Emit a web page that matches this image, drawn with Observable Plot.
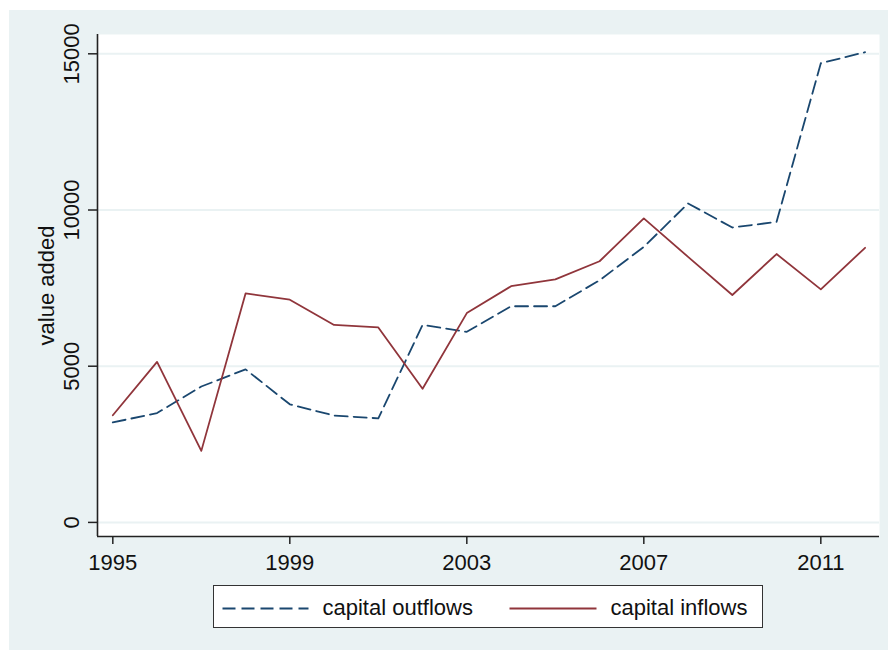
<!DOCTYPE html>
<html>
<head>
<meta charset="utf-8">
<script src="https://cdn.jsdelivr.net/npm/d3@7"></script>
<script src="https://cdn.jsdelivr.net/npm/@observablehq/plot@0.6"></script>
<style>
  html, body { margin: 0; padding: 0; background: #ffffff; }
  #wrap { position: relative; width: 888px; height: 650px; overflow: hidden;
          font-family: 'Liberation Sans', Arial, sans-serif; }
  #bg { position: absolute; left: 9px; top: 10px; width: 879px; height: 640px; background: #eaf2f3; }
  #chart { position: absolute; left: 0; top: 0; }
  #legend { position: absolute; left: 213px; top: 585px; width: 550px; height: 43px;
            box-sizing: border-box; border: 1.5px solid #333; background: #fff; }
  #legend span { position: absolute; font-size: 22px; line-height: 22px; color: #111; white-space: nowrap; }
  #legend svg { position: absolute; left: 0; top: 0; }
</style>
</head>
<body>
<div id="wrap">
  <div id="bg"></div>
  <div id="chart"></div>
  <div id="legend"></div>
</div>
<script>
// ---- data ----
const years = [1995,1996,1997,1998,1999,2000,2001,2002,2003,2004,2005,2006,2007,2008,2009,2010,2011,2012];
const outflows = [3200,3500,4350,4900,3780,3420,3330,6320,6100,6920,6920,7750,8820,10210,9440,9620,14700,15050];
const inflows  = [3430,5140,2290,7330,7130,6320,6240,4280,6700,7560,7780,8360,9730,8500,7280,8590,7460,8790];
const xTicks = [1995,1999,2003,2007,2011];
const yTicks = [0,5000,10000,15000];
const seriesNames = ["capital outflows","capital inflows"];
const yTitle = "value added";

const outRows = years.map((y,i) => ({year: y, value: outflows[i]}));
const inRows  = years.map((y,i) => ({year: y, value: inflows[i]}));

const blue = "#1a476f", red = "#90353b", grid = "#eaf2f3", axisCol = "#222";
const xDomain = [1994.654, 2012.326];
const yDomain = [-451, 15618];

const chart = Plot.plot({
  width: 888,
  height: 580,
  marginLeft: 97,
  marginRight: 9,
  marginTop: 34,
  marginBottom: 44,
  style: {background: "transparent", fontFamily: "'Liberation Sans', Arial, sans-serif", color: "#111"},
  x: {domain: xDomain, type: "linear"},
  y: {domain: yDomain, type: "linear"},
  marks: [
    Plot.frame({fill: "white", stroke: "none"}),
    Plot.gridY(yTicks, {stroke: grid, strokeOpacity: 1, strokeWidth: 2}),
    Plot.line(outRows, {x: "year", y: "value", stroke: blue, strokeWidth: 1.8, strokeDasharray: "13,6"}),
    Plot.line(inRows, {x: "year", y: "value", stroke: red, strokeWidth: 1.8}),
    Plot.ruleX([xDomain[0]], {stroke: axisCol, strokeWidth: 1.6}),
    Plot.ruleY([yDomain[0]], {stroke: axisCol, strokeWidth: 1.6}),
    Plot.axisX(xTicks, {tickSize: 8, tickPadding: 10, fontSize: 22, tickFormat: d => String(d), label: null, stroke: axisCol, strokeWidth: 1.5}),
    Plot.axisY(yTicks, {tickSize: 9, tickFormat: () => "", label: null, stroke: axisCol, strokeWidth: 1.5}),
    Plot.text(yTicks, {y: d => d, frameAnchor: "left", dx: -19, rotate: -90, text: d => String(d),
                       textAnchor: "middle", lineAnchor: "bottom", fontSize: 22, fill: "#111"}),
    Plot.text([yTitle], {frameAnchor: "left", dx: -44, rotate: -90, text: d => d,
                         textAnchor: "middle", lineAnchor: "bottom", fontSize: 22, fill: "#111"})
  ]
});
document.getElementById("chart").appendChild(chart);

// ---- legend ----
const lg = document.getElementById("legend");
const ns = "http://www.w3.org/2000/svg";
const sv = document.createElementNS(ns, "svg");
sv.setAttribute("width", 547); sv.setAttribute("height", 40);
function seg(x1, x2, col, dash) {
  const l = document.createElementNS(ns, "line");
  l.setAttribute("x1", x1); l.setAttribute("x2", x2);
  l.setAttribute("y1", 22.5); l.setAttribute("y2", 22.5);
  l.setAttribute("stroke", col); l.setAttribute("stroke-width", 1.8);
  if (dash) l.setAttribute("stroke-dasharray", dash);
  sv.appendChild(l);
}
seg(223 - 214.5, 309 - 214.5, blue, "13,6");
seg(510 - 214.5, 597 - 214.5, red, null);
lg.appendChild(sv);
const s1 = document.createElement("span");
s1.textContent = seriesNames[0]; s1.style.left = (323 - 214.5) + "px"; s1.style.top = "11px";
const s2 = document.createElement("span");
s2.textContent = seriesNames[1]; s2.style.left = (611 - 214.5) + "px"; s2.style.top = "11px";
lg.appendChild(s1); lg.appendChild(s2);
</script>
</body>
</html>
